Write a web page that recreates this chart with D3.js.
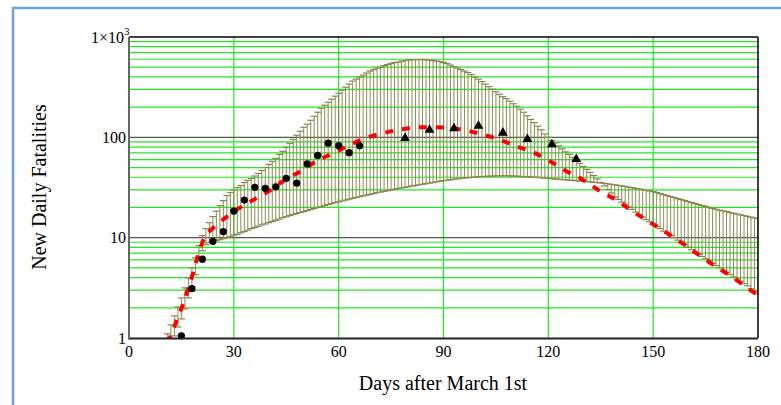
<!DOCTYPE html>
<meta charset="utf-8">
<html>
<head><title>New Daily Fatalities</title></head>
<style>
body { margin: 0; background: #fff; }
text { font-family: "Liberation Serif", "Times New Roman", serif; fill: #000; }
</style>
<body>
<script src="https://d3js.org/d3.v7.min.js"></script>
<svg id="chart" width="781" height="405"></svg>
<script>

// observed deaths, first part (circles)
var obsDays = [15, 18, 21, 24, 27, 30, 33, 36, 39, 42, 45, 48, 51, 54, 57, 60, 63, 66];
var obsValues = [1.05, 3.1, 6.1, 9.2, 11.5, 18.4, 23.7, 31.8, 31.0, 32.1, 39.1, 34.9, 54.3, 66, 87.5, 82.5, 70.4, 82.3];

// weekly observed deaths (triangles)
var weekDays = [79, 86, 93, 100, 107, 114, 121, 128];
var weekValues = [98, 118.6, 123, 130, 111, 95.7, 85, 60.5];

// model curve (red dashes)
var modelDays = [11, 12, 13.7, 15.5, 17, 18.6, 19.8, 21.7, 23.5, 25.5, 30.3, 35.2, 39.8, 44.6, 49.5, 54, 59, 63.8,
  68.4, 72.7, 77.8, 82.7, 87.3, 92, 97, 101.6, 106.5, 111, 116, 120.8, 125.3, 130, 134.5, 139.7, 144, 149,
  154, 158.5, 163.4, 168, 173, 177.7, 180];
var modelValues = [0.89, 1.07, 1.51, 2.19, 3.16, 4.79, 6.76, 10.2, 12.0, 13.8, 18.5, 23.4, 28.8, 37.6, 46.8, 58.9, 70.8, 86.1,
  100, 110, 120, 126, 126, 124, 116, 106, 93.3, 81.3, 70.0, 56.9, 45.7, 37.6, 29.5, 23.4, 18.4, 14.3,
  11.1, 8.71, 6.61, 5.13, 3.98, 3.02, 2.69];

// error bars, one per day from day 11 to day 180
var bandDays = d3.range(11, 181);
var bandA = [1.10, 1.35, 1.66, 2.04, 2.51, 3.16, 3.98, 5.01, 6.31, 8.32,
  10.5, 12.3, 14.1, 16.2, 18.4, 20.9, 23.4, 26.3, 28.2, 29.9,
  31.6, 33.1, 35.5, 37.2, 38.9, 41.2, 43.7, 46.8, 50.1, 53.7,
  57.5, 61.7, 67.6, 72.4, 79.4, 87.1, 95.5, 105, 115, 126,
  135, 148, 162, 178, 195, 209, 224, 240, 257, 275,
  295, 316, 339, 363, 380, 398, 417, 437, 457, 473,
  490, 501, 519, 531, 543, 556, 562, 575, 582, 589,
  593, 596, 596, 596, 592, 589, 582, 575, 569, 556,
  543, 525, 507, 490, 473, 457, 442, 422, 398, 380,
  359, 339, 320, 302, 285, 269, 254, 243, 229, 216,
  204, 191, 178, 164, 151, 140, 129, 119, 108, 100,
  93.3, 88.1, 82.2, 76.7, 71.6, 67.6, 63.1, 58.9, 55.0, 51.3,
  47.9, 44.7, 41.7, 38.5, 35.5, 32.7, 30.2, 27.9, 25.4, 24.0,
  22.6, 21.4, 20.2, 19.1, 18.0, 17.0, 16.0, 15.1, 14.4, 13.6,
  12.9, 12.3, 11.6, 11.1, 10.5, 10.0, 9.44, 8.97, 8.51, 8.04,
  7.59, 7.21, 6.84, 6.49, 6.17, 5.85, 5.56, 5.27, 5.01, 4.75,
  4.52, 4.29, 4.07, 3.86, 3.67, 3.48, 3.31, 3.10, 2.95, 2.75];
var bandB = [0.71, 0.85, 1.05, 1.29, 1.55, 1.95, 2.51, 3.24, 4.27, 6.03,
  7.41, 8.51, 8.91, 9.12, 9.33, 9.55, 9.77, 10.0, 10.2, 10.6,
  10.8, 11.2, 11.5, 11.9, 12.3, 12.6, 13.0, 13.4, 13.7, 14.1,
  14.5, 14.9, 15.3, 15.8, 16.2, 16.6, 17.0, 17.4, 17.8, 18.2,
  18.6, 19.1, 19.5, 20.0, 20.4, 20.9, 21.4, 21.9, 22.3, 22.8,
  23.2, 23.7, 24.2, 24.7, 25.1, 25.6, 26.1, 26.5, 27.0, 27.5,
  28.1, 28.5, 29.0, 29.4, 29.9, 30.4, 30.9, 31.3, 31.8, 32.2,
  32.7, 33.1, 33.6, 34.0, 34.5, 35.0, 35.5, 36.0, 36.5, 37.0,
  37.4, 37.8, 38.3, 38.6, 39.0, 39.4, 39.6, 39.9, 40.2, 40.5,
  40.6, 40.8, 41.0, 41.1, 41.2, 41.3, 41.3, 41.3, 41.2, 41.1,
  41.0, 40.8, 40.6, 40.5, 40.3, 40.1, 39.8, 39.5, 39.3, 39.0,
  38.7, 38.5, 38.2, 37.9, 37.7, 37.4, 37.2, 36.9, 36.6, 36.4,
  36.1, 35.9, 35.6, 35.4, 35.2, 34.8, 34.4, 34.0, 33.6, 33.2,
  32.8, 32.4, 31.9, 31.5, 31.0, 30.6, 30.2, 29.7, 29.2, 28.8,
  28.2, 27.5, 26.9, 26.3, 25.7, 25.1, 24.5, 24.0, 23.4, 22.9,
  22.4, 21.9, 21.4, 20.9, 20.5, 20.0, 19.6, 19.2, 18.8, 18.5,
  18.2, 17.8, 17.5, 17.2, 16.9, 16.6, 16.3, 16.0, 15.7, 15.5];

var xTicks = [0, 30, 60, 90, 120, 150, 180];
var yMajor = [1, 10, 100];

var svg = d3.select("#chart");

// outer light blue frame (runs off the right and bottom edges)
svg.append("rect")
  .attr("x", 13).attr("y", 8)
  .attr("width", 800).attr("height", 420)
  .attr("fill", "none")
  .attr("stroke", "#6aa2da")
  .attr("stroke-width", 2.5);

var x = d3.scaleLinear().domain([0, 180]).range([129, 758]);
var y = d3.scaleLog().domain([1, 1000]).range([338, 37]);

svg.append("clipPath").attr("id", "plotclip")
  .append("rect")
  .attr("x", x(0)).attr("y", y(1000))
  .attr("width", x(180) - x(0)).attr("height", y(1) - y(1000));

// grid
var grid = svg.append("g");
grid.selectAll("line.hminor")
  .data(y.ticks().filter(function(d) { return yMajor.indexOf(d) < 0 && d < 1000; }))
  .enter().append("line")
  .attr("x1", x(0)).attr("x2", x(180))
  .attr("y1", function(d) { return y(d); })
  .attr("y2", function(d) { return y(d); })
  .attr("stroke", "#22e822").attr("stroke-width", 1.2);

grid.selectAll("line.v")
  .data(xTicks.slice(1, -1))
  .enter().append("line")
  .attr("x1", function(d) { return x(d); })
  .attr("x2", function(d) { return x(d); })
  .attr("y1", y(1000)).attr("y2", y(1))
  .attr("stroke", "#22e822").attr("stroke-width", 1.2);

grid.selectAll("line.hmajor")
  .data([10, 100])
  .enter().append("line")
  .attr("x1", x(0)).attr("x2", x(180))
  .attr("y1", function(d) { return y(d); })
  .attr("y2", function(d) { return y(d); })
  .attr("stroke", "#555").attr("stroke-width", 1.3);

// error bars
var bars = svg.append("g").attr("clip-path", "url(#plotclip)");
var barData = bandDays.map(function(d, i) {
  return { day: d, lo: Math.min(bandA[i], bandB[i]), hi: Math.max(bandA[i], bandB[i]) };
});
bars.selectAll("line.bar")
  .data(barData)
  .enter().append("line")
  .attr("x1", function(d) { return x(d.day); })
  .attr("x2", function(d) { return x(d.day); })
  .attr("y1", function(d) { return y(d.lo); })
  .attr("y2", function(d) { return y(d.hi); })
  .attr("stroke", "#8f8b55").attr("stroke-width", 1);
["lo", "hi"].forEach(function(k) {
  bars.selectAll("line.cap" + k)
    .data(barData)
    .enter().append("line")
    .attr("x1", function(d) { return x(d.day) - 3.5; })
    .attr("x2", function(d) { return x(d.day) + 3.5; })
    .attr("y1", function(d) { return y(d[k]); })
    .attr("y2", function(d) { return y(d[k]); })
    .attr("stroke", "#8a864e").attr("stroke-width", 1.2);
});

// model curve
var line = d3.line()
  .x(function(d) { return x(d[0]); })
  .y(function(d) { return y(d[1]); })
  .curve(d3.curveMonotoneX);
svg.append("path")
  .attr("clip-path", "url(#plotclip)")
  .datum(modelDays.map(function(d, i) { return [d, modelValues[i]]; }))
  .attr("d", line)
  .attr("fill", "none")
  .attr("stroke", "#ff0000")
  .attr("stroke-width", 4)
  .attr("stroke-dasharray", "8,9");

// observations
svg.append("g").selectAll("circle")
  .data(obsDays)
  .enter().append("circle")
  .attr("cx", function(d) { return x(d); })
  .attr("cy", function(d, i) { return y(obsValues[i]); })
  .attr("r", 3.6)
  .attr("fill", "#000");

svg.append("g").selectAll("path")
  .data(weekDays)
  .enter().append("path")
  .attr("d", d3.symbol().type(d3.symbolTriangle).size(42))
  .attr("transform", function(d, i) { return "translate(" + x(d) + "," + y(weekValues[i]) + ")"; })
  .attr("fill", "#000");

// frame
svg.append("line").attr("x1", x(0)).attr("x2", x(180)).attr("y1", y(1000)).attr("y2", y(1000))
  .attr("stroke", "#000").attr("stroke-width", 1.5);
svg.append("line").attr("x1", x(180)).attr("x2", x(180)).attr("y1", y(1000)).attr("y2", y(1))
  .attr("stroke", "#000").attr("stroke-width", 1.5);
svg.append("line").attr("x1", x(0) - 1).attr("x2", x(180)).attr("y1", y(1) + 0.5).attr("y2", y(1) + 0.5)
  .attr("stroke", "#222").attr("stroke-width", 2);
svg.append("line").attr("x1", x(0)).attr("x2", x(0)).attr("y1", y(1000)).attr("y2", y(1) + 1)
  .attr("stroke", "#666").attr("stroke-width", 2);

// tick labels
svg.append("g").selectAll("text")
  .data(xTicks)
  .enter().append("text")
  .attr("x", function(d) { return x(d); })
  .attr("y", 357)
  .attr("text-anchor", "middle")
  .style("font-size", "16px")
  .text(function(d) { return d; });

svg.append("g").selectAll("text")
  .data(yMajor)
  .enter().append("text")
  .attr("x", 126)
  .attr("y", function(d) { return y(d) + 5.5; })
  .attr("text-anchor", "end")
  .style("font-size", "16px")
  .text(function(d) { return d; });

var topLabel = svg.append("text")
  .attr("x", 91).attr("y", y(1000) + 5.5)
  .style("font-size", "16px");
topLabel.append("tspan").text("1\u00d710");
topLabel.append("tspan").attr("dy", -8).style("font-size", "11px").text("3");

// axis titles
svg.append("text")
  .attr("x", 443).attr("y", 390)
  .attr("text-anchor", "middle")
  .style("font-size", "20px")
  .text("Days after March 1st");

svg.append("text")
  .attr("transform", "translate(46,187) rotate(-90)")
  .attr("text-anchor", "middle")
  .style("font-size", "20px")
  .text("New Daily Fatalities");

</script>
</body>
</html>
